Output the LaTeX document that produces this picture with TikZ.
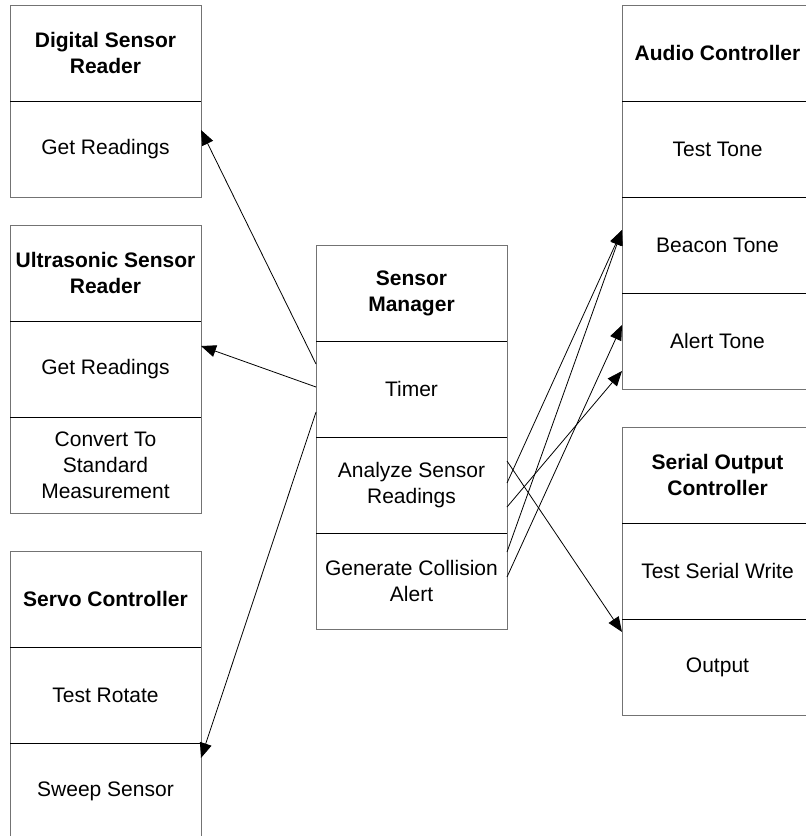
\documentclass[tikz,border=0pt]{standalone}
\usepackage{fontspec}
\setmainfont{Liberation Sans}
\usetikzlibrary{positioning,arrows.meta}
\tikzset{
  part/.style={draw=black!55, line width=1pt, minimum width=191pt, minimum height=96pt,
    inner sep=0pt, outer sep=0pt, align=center, font=\fontsize{21}{26}\selectfont},
  title/.style={part, font=\fontsize{21}{26}\selectfont\bfseries},
  link/.style={-{Triangle[length=15pt,width=12pt]}, line width=0.8pt}
}

\begin{document}
\begin{tikzpicture}[x=1pt,y=1pt]
\useasboundingbox (0,0) rectangle (806,-836);
\node[title] (dsr) at (105.5,-53) {Digital Sensor\\Reader};
\node[part, below=0pt of dsr] (dsrget) {Get Readings};
\node[title] (usr) at (105.5,-273) {Ultrasonic Sensor\\Reader};
\node[part, below=0pt of usr] (usrget) {Get Readings};
\node[part, below=0pt of usrget] (usrconv) {Convert To\\Standard\\Measurement};
\node[title] (servo) at (105.5,-599) {Servo Controller};
\node[part, below=0pt of servo] (servotest) {Test Rotate};
\node[part, below=0pt of servotest] (servosweep) {Sweep Sensor};
\node[title] (mgr) at (411.5,-293) {Sensor\\Manager};
\node[part, below=0pt of mgr] (mgrtimer) {Timer};
\node[part, below=0pt of mgrtimer] (mgranalyze) {Analyze Sensor\\Readings};
\node[part, below=0pt of mgranalyze] (mgralert) {Generate Collision\\Alert};
\node[title] (audio) at (717.5,-53) {Audio Controller};
\node[part, below=0pt of audio] (audiotest) {Test Tone};
\node[part, below=0pt of audiotest] (audiobeacon) {Beacon Tone};
\node[part, below=0pt of audiobeacon] (audioalert) {Alert Tone};
\node[title] (serial) at (717.5,-475) {Serial Output\\Controller};
\node[part, below=0pt of serial] (serialtest) {Test Serial Write};
\node[part, below=0pt of serialtest] (serialout) {Output};
\foreach \a in {dsr,usr,usrget,servo,servotest,mgr,mgrtimer,mgranalyze,audio,audiotest,audiobeacon,serial,serialtest}
  \draw[line width=1pt] (\a.south west) -- (\a.south east);
\draw[link] ([yshift=25pt]mgrtimer.west) -- ([yshift=19pt]dsrget.east);
\draw[link] ([yshift=2pt]mgrtimer.west) -- ([yshift=23pt]usrget.east);
\draw[link] ([yshift=-23pt]mgrtimer.west) -- ([yshift=33pt]servosweep.east);
\draw[link] ([yshift=24pt]mgranalyze.east) -- ([yshift=35pt]serialout.west);
\draw[link] ([yshift=2pt]mgranalyze.east) -- ([yshift=15pt]audiobeacon.west);
\draw[link] ([yshift=-22pt]mgranalyze.east) -- ([yshift=-30pt]audioalert.west);
\draw[link] ([yshift=29pt]mgralert.east) -- ([yshift=15pt]audiobeacon.west);
\draw[link] ([yshift=4pt]mgralert.east) -- ([yshift=16pt]audioalert.west);
\end{tikzpicture}
\end{document}
